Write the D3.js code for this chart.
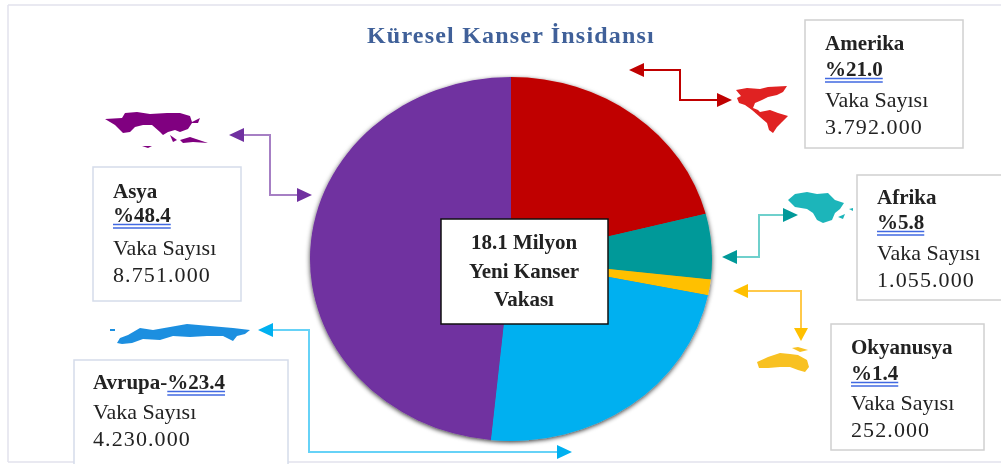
<!DOCTYPE html>
<html>
<head>
<meta charset="utf-8">
<script src="https://cdn.jsdelivr.net/npm/d3@7"></script>
<style>
  html, body { margin:0; padding:0; background:#fff; }
  svg { display:block; }
  text { font-family:"Liberation Serif", serif; fill:#222; }
</style>
</head>
<body>
<div id="chart"></div>
<script>
// values
var regions = ["Amerika", "Afrika", "Okyanusya", "Avrupa", "Asya"];
var percents = [21.0, 5.8, 1.4, 23.4, 48.4];
var percentLabels = ["%21.0", "%5.8", "%1.4", "%23.4", "%48.4"];
var caseLabels = ["3.792.000", "1.055.000", "252.000", "4.230.000", "8.751.000"];
var colors = ["#c00000", "#009999", "#ffc000", "#00b0f0", "#7030a0"];
var titleText = "Küresel Kanser İnsidansı";
var centerLines = ["18.1 Milyon", "Yeni Kanser", "Vakası"];
var caseHeading = "Vaka Sayısı";

var width = 1001, height = 464;

var svg = d3.select("div#chart")
    .append("svg")
        .attr("width", width)
        .attr("height", height);

var defs = svg.append("defs");
var shadow = defs.append("filter")
    .attr("id", "pie-shadow")
    .attr("x", "-10%").attr("y", "-10%")
    .attr("width", "120%").attr("height", "120%");
shadow.append("feDropShadow")
    .attr("dx", 0).attr("dy", 0.8)
    .attr("stdDeviation", 1.2)
    .attr("flood-color", "#000")
    .attr("flood-opacity", 0.75);
defs.append("filter").attr("id", "soft")
    .append("feGaussianBlur").attr("stdDeviation", 0.6);
defs.append("filter").attr("id", "soft-text")
    .attr("x", "-5%").attr("y", "-5%")
    .attr("width", "110%").attr("height", "110%")
    .append("feGaussianBlur").attr("stdDeviation", 0.35);

// frame lines at the edges of the picture
var frame = svg.append("g")
    .style("stroke", "#e2e2ec").style("stroke-width", 1.5);
frame.append("line").attr("x1", 8).attr("x2", width).attr("y1", 5).attr("y2", 5);
frame.append("line").attr("x1", 8).attr("x2", 8).attr("y1", 5).attr("y2", 462);
frame.append("line").attr("x1", 8).attr("x2", width).attr("y1", 462).attr("y2", 462);

svg.append("text")
    .attr("x", 511).attr("y", 43)
    .attr("text-anchor", "middle")
    .attr("filter", "url(#soft-text)")
    .style("font-size", "24px")
    .style("font-weight", "bold")
    .style("letter-spacing", "1.2px")
    .style("fill", "#3f6199")
    .text(titleText);

// pie is an ellipse in the picture, so the group is squashed
var pie = d3.pie().sort(null).value(function(d) { return d; });
var arc = d3.arc().innerRadius(0).outerRadius(100);

var pieGroup = svg.append("g")
    .attr("transform", "translate(511,259) scale(2.01,1.82)")
    .attr("filter", "url(#pie-shadow)");

pieGroup.selectAll("path")
    .data(pie(percents))
    .enter()
    .append("path")
        .attr("d", arc)
        .style("fill", function(d, i) { return colors[i]; });

// center label
svg.append("rect")
    .attr("x", 441).attr("y", 219)
    .attr("width", 167).attr("height", 105)
    .style("fill", "#fff")
    .style("stroke", "#111")
    .style("stroke-width", 1.5);
svg.selectAll(".center-line")
    .data(centerLines)
    .enter()
    .append("text")
        .attr("class", "center-line")
        .attr("x", 524)
        .attr("y", function(d, i) { return 249 + i * 28.5; })
        .attr("text-anchor", "middle")
        .attr("filter", "url(#soft-text)")
        .style("font-size", "21px")
        .style("font-weight", "bold")
        .text(function(d) { return d; });

// boxes: order follows regions
var boxes = [
    {x:805, y:20, w:158, h:128, tx:825, ty:[50, 76, 107, 134]},
    {x:857, y:175, w:150, h:125, tx:877, ty:[204, 229, 260, 287]},
    {x:831, y:324, w:153, h:126, tx:851, ty:[354, 380, 410, 437]},
    {x:74, y:360, w:214, h:110, tx:93, ty:[389, null, 419, 446]},
    {x:93, y:167, w:148, h:134, tx:113, ty:[198, 222, 255, 282]}
];

var box = svg.selectAll(".box")
    .data(regions)
    .enter()
    .append("g")
        .attr("class", "box");

box.append("rect")
    .attr("x", function(d, i) { return boxes[i].x; })
    .attr("y", function(d, i) { return boxes[i].y; })
    .attr("width", function(d, i) { return boxes[i].w; })
    .attr("height", function(d, i) { return boxes[i].h; })
    .style("fill", "#fff")
    .style("stroke", function(d, i) { return i >= 3 ? "#d5dcea" : "#d0d0d0"; })
    .style("stroke-width", 1.5);

box.each(function(d, i) {
    var g = d3.select(this), b = boxes[i];
    var texts = g.append("g").attr("filter", "url(#soft-text)");
    var nameLine = texts.append("text")
        .attr("x", b.tx).attr("y", b.ty[0])
        .style("font-size", "21px")
        .style("font-weight", "bold");
    nameLine.append("tspan").text(d + (b.ty[1] === null ? "-" : ""));
    var pctLine = b.ty[1] === null ? nameLine :
        texts.append("text")
            .attr("x", b.tx).attr("y", b.ty[1])
            .style("font-size", "21px")
            .style("font-weight", "bold");
    pctLine.append("tspan").attr("class", "pct").text(percentLabels[i]);

    // double blue underline under the percent
    var span = pctLine.select(".pct").node();
    var start = span.getStartPositionOfChar(0).x;
    var len = span.getComputedTextLength();
    var uy = (b.ty[1] === null ? b.ty[0] : b.ty[1]) + 2.5;
    [0, 3.5].forEach(function(off) {
        g.append("line")
            .attr("x1", start).attr("x2", start + len)
            .attr("y1", uy + off).attr("y2", uy + off)
            .style("stroke", "#4169e1").style("stroke-width", 1.5);
    });

    texts.append("text").attr("x", b.tx).attr("y", b.ty[2])
        .style("font-size", "22px").text(caseHeading);
    texts.append("text").attr("x", b.tx).attr("y", b.ty[3])
        .style("font-size", "22px").style("letter-spacing", "1.1px").text(caseLabels[i]);
});

// connector arrows: elbow line with a head on both ends
var connectors = [
    {c:"#c00000", line:"#c00000", p:[[640,70],[680,70],[680,100],[720,100]], a:[[629,70,"l"],[732,100,"r"]]},
    {c:"#009999", line:"#6fd0cc", p:[[735,257],[759,257],[759,215],[785,215]], a:[[722,257,"l"],[798,215,"r"]]},
    {c:"#ffc000", line:"#ffc94a", p:[[745,291],[801,291],[801,328]], a:[[733,291,"l"],[801,341,"d"]]},
    {c:"#00b0f0", line:"#66d2f7", p:[[270,330],[309,330],[309,452],[560,452]], a:[[258,330,"l"],[572,452,"r"]]},
    {c:"#7030a0", line:"#a67fc4", p:[[243,135],[270,135],[270,195],[300,195]], a:[[229,135,"l"],[312,195,"r"]]}
];

var heads = {
    l: function(x, y) { return [[x,y],[x+15,y-7],[x+15,y+7]]; },
    r: function(x, y) { return [[x,y],[x-15,y-7],[x-15,y+7]]; },
    d: function(x, y) { return [[x,y],[x-7,y-13],[x+7,y-13]]; }
};
var line = d3.line();

connectors.forEach(function(c) {
    svg.append("path")
        .attr("d", line(c.p))
        .style("fill", "none")
        .style("stroke", c.line)
        .style("stroke-width", 2);
    c.a.forEach(function(h) {
        svg.append("path")
            .attr("d", line(heads[h[2]](h[0], h[1])) + "Z")
            .style("fill", c.c);
    });
});

// little continent outlines, hand traced
var continents = [
    {c:"#e02020", d:[
        [[736,90],[747,88],[760,89],[768,87],[787,86],[783,92],[777,95],[768,97],[762,100],[755,103],[753,108],[758,110],[760,112],[770,110],[778,113],[788,116],[782,122],[777,127],[773,133],[769,130],[767,123],[760,117],[752,110],[745,105],[739,103],[737,98],[741,96]]
    ]},
    {c:"#1fb5ba", d:[
        [[788,200],[795,194],[807,192],[817,194],[828,193],[835,200],[844,203],[840,209],[835,213],[832,220],[823,223],[817,220],[813,213],[807,209],[795,207]],
        [[838,217],[845,214],[843,219]],
        [[849,209],[853,208],[853,211]]
    ]},
    {c:"#f8c120", d:[
        [[757,362],[768,357],[780,353],[790,354],[798,355],[807,360],[809,367],[805,372],[798,370],[790,367],[780,367],[768,368],[759,368]],
        [[792,348],[798,347],[808,350],[800,352]]
    ]},
    {c:"#1c8fe0", d:[
        [[117,343],[120,338],[128,335],[140,328],[153,330],[170,327],[187,324],[210,326],[233,328],[250,330],[245,334],[237,336],[233,341],[223,336],[207,336],[190,337],[173,336],[160,340],[143,339],[132,343],[122,344]],
        [[110,329],[115,329],[115,331],[110,331]]
    ]},
    {c:"#800080", d:[
        [[105,119],[122,118],[125,113],[137,112],[150,114],[167,113],[180,113],[190,116],[192,122],[200,118],[198,123],[192,123],[188,129],[180,132],[175,130],[168,132],[163,135],[160,132],[152,125],[143,125],[135,127],[130,132],[123,133],[115,125],[110,122]],
        [[170,135],[177,140],[173,142]],
        [[180,140],[190,137],[208,143],[193,142],[183,143]],
        [[142,146],[152,146],[148,148]]
    ]}
];

continents.forEach(function(ct) {
    svg.append("g")
        .attr("filter", "url(#soft)")
        .selectAll("path")
        .data(ct.d)
        .enter()
        .append("path")
            .attr("d", function(d) { return line(d) + "Z"; })
            .style("fill", ct.c);
});
</script>
</body>
</html>
